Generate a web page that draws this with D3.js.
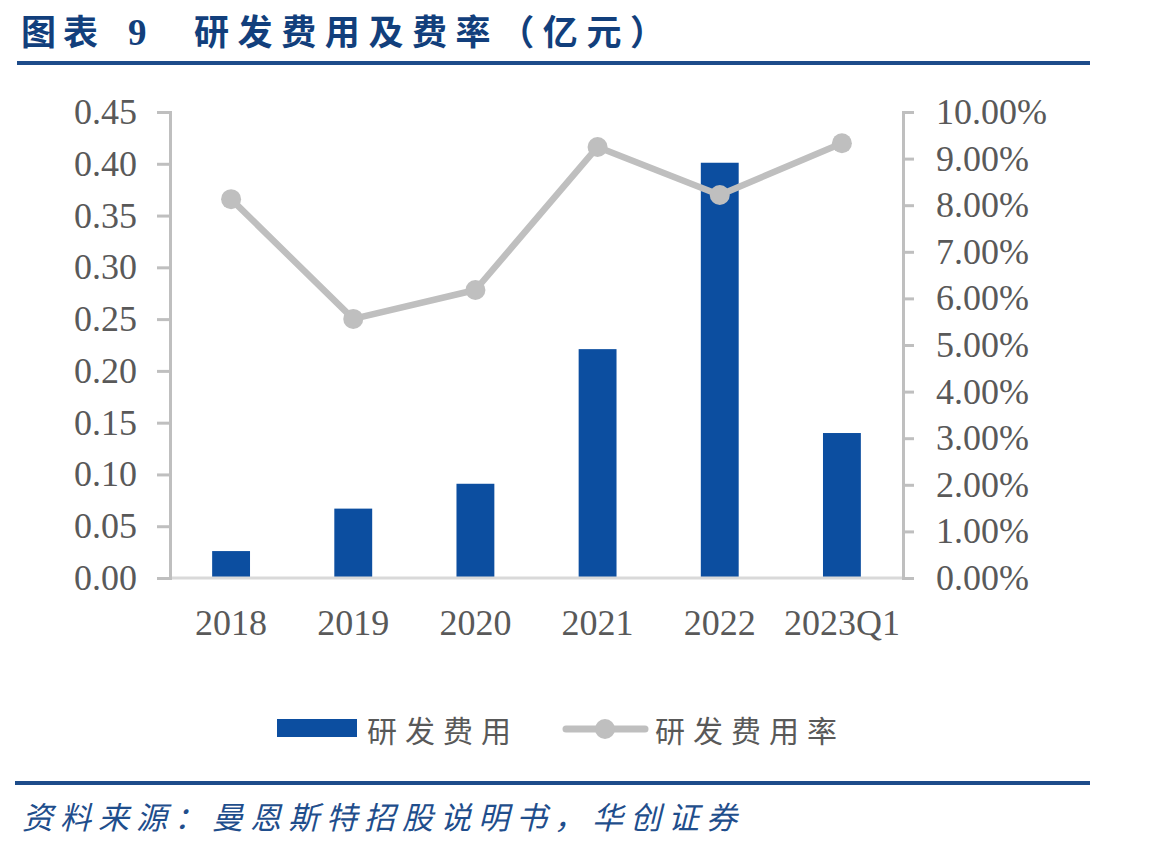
<!DOCTYPE html>
<html>
<head>
<meta charset="utf-8">
<style>
  body { margin: 0; background: #fff; }
  svg { display: block; }
</style>
</head>
<body>
<script src="https://cdn.jsdelivr.net/npm/d3@7/dist/d3.min.js"></script>
<script>
  // 数据
  var categories = ["2018", "2019", "2020", "2021", "2022", "2023Q1"];
  var rdCost = [0.026, 0.067, 0.091, 0.221, 0.401, 0.140];      // 研发费用（亿元）
  var rdRate = [0.0813, 0.0556, 0.0618, 0.0925, 0.0822, 0.0933]; // 研发费用率
  var leftTicks = [0, 0.05, 0.10, 0.15, 0.20, 0.25, 0.30, 0.35, 0.40, 0.45];
  var rightTicks = [0, 0.01, 0.02, 0.03, 0.04, 0.05, 0.06, 0.07, 0.08, 0.09, 0.10];

  var width = 1149, height = 849;
  var blue = "#0c4ea0", gray = "#bfbfbf", textGray = "#595959", navy = "#123f7c";
  var numFont = "'Liberation Serif', 'Times New Roman', serif";
  var cjkFont = "'Noto Sans CJK SC', sans-serif";

  var svg = d3.select("body").append("svg")
              .attr("width", width)
              .attr("height", height);

  // 标题
  var title = svg.append("g").attr("fill", navy).attr("font-weight", "bold");
  title.append("text").attr("x", 21).attr("y", 45)
       .attr("font-family", cjkFont).attr("font-size", 35)
       .attr("letter-spacing", 7).text("图表");
  title.append("text").attr("x", 128).attr("y", 45)
       .attr("font-family", numFont).attr("font-size", 37).text("9");
  title.append("text").attr("x", 194).attr("y", 45)
       .attr("font-family", cjkFont).attr("font-size", 35)
       .attr("letter-spacing", 8.6).text("研发费用及费率（亿元）");

  svg.append("rect").attr("x", 17).attr("y", 61).attr("width", 1073).attr("height", 4).attr("fill", "#1d4c8a");
  svg.append("rect").attr("x", 15).attr("y", 781).attr("width", 1075).attr("height", 4).attr("fill", "#1d4c8a");

  // 来源
  svg.append("text").attr("x", 22).attr("y", 829)
     .attr("font-family", cjkFont).attr("font-size", 31)
     .attr("font-style", "italic").attr("letter-spacing", 7)
     .attr("fill", "#1f4e8c")
     .text("资料来源：曼恩斯特招股说明书，华创证券");

  // 坐标
  var plot = {left: 170, right: 903, top: 112, bottom: 578};
  var x = d3.scaleBand().domain(categories)
            .range([plot.left, plot.right]).paddingInner(0.69).paddingOuter(0.345);
  var yL = d3.scaleLinear().domain([0, 0.45]).range([plot.bottom, plot.top]);
  var yR = d3.scaleLinear().domain([0, 0.10]).range([plot.bottom, plot.top]);

  // 柱
  svg.selectAll("rect.bar").data(rdCost).enter().append("rect")
     .attr("class", "bar")
     .attr("fill", blue)
     .attr("x", function(d, i) { return x(categories[i]); })
     .attr("y", function(d) { return yL(d); })
     .attr("width", x.bandwidth())
     .attr("height", function(d) { return plot.bottom - yL(d); });

  // X 轴
  svg.append("line").attr("x1", plot.left).attr("x2", plot.right)
     .attr("y1", plot.bottom).attr("y2", plot.bottom)
     .attr("stroke", "#d9d9d9").attr("stroke-width", 3);

  var xAxis = svg.append("g").attr("transform", "translate(0," + plot.bottom + ")")
                 .call(d3.axisBottom(x).tickSize(0).tickPadding(57));
  xAxis.select(".domain").remove();
  xAxis.selectAll("text").attr("font-family", numFont).attr("font-size", 36)
       .attr("fill", textGray).attr("dy", "0");

  // 左轴
  var leftAxis = svg.append("g").attr("transform", "translate(" + plot.left + ",0)")
                    .call(d3.axisLeft(yL).tickValues(leftTicks).tickSizeInner(13).tickSizeOuter(13)
                          .tickPadding(20).tickFormat(d3.format(".2f")));
  leftAxis.select(".domain").attr("stroke", gray).attr("stroke-width", 3);
  leftAxis.selectAll(".tick line").attr("stroke", gray).attr("stroke-width", 3);
  leftAxis.selectAll("text").attr("font-family", numFont).attr("font-size", 36)
          .attr("fill", textGray);

  // 右轴
  var rightAxis = svg.append("g").attr("transform", "translate(" + plot.right + ",0)")
                     .call(d3.axisRight(yR).tickValues(rightTicks).tickSizeInner(11).tickSizeOuter(11)
                           .tickPadding(22).tickFormat(d3.format(".2%")));
  rightAxis.select(".domain").attr("stroke", gray).attr("stroke-width", 3);
  rightAxis.selectAll(".tick line").attr("stroke", gray).attr("stroke-width", 3);
  rightAxis.selectAll("text").attr("font-family", numFont).attr("font-size", 36)
           .attr("fill", textGray);

  // 折线
  var cx = function(d, i) { return x(categories[i]) + x.bandwidth() / 2; };
  var line = d3.line().x(cx).y(function(d) { return yR(d); });
  svg.append("path").datum(rdRate)
     .attr("d", line).attr("fill", "none")
     .attr("stroke", gray).attr("stroke-width", 6.5).attr("stroke-linejoin", "round");
  svg.selectAll("circle.pt").data(rdRate).enter().append("circle")
     .attr("class", "pt")
     .attr("cx", cx).attr("cy", function(d) { return yR(d); })
     .attr("r", 10).attr("fill", gray);

  // 图例
  var legend = svg.append("g");
  legend.append("rect").attr("x", 277).attr("y", 719).attr("width", 80).attr("height", 18).attr("fill", blue);
  legend.append("text").attr("x", 367).attr("y", 729).attr("dominant-baseline", "central")
        .attr("font-family", cjkFont).attr("font-size", 30).attr("letter-spacing", 8)
        .attr("fill", textGray).text("研发费用");
  legend.append("line").attr("x1", 566).attr("x2", 645).attr("y1", 729).attr("y2", 729)
        .attr("stroke", gray).attr("stroke-width", 7).attr("stroke-linecap", "round");
  legend.append("circle").attr("cx", 605).attr("cy", 729).attr("r", 10).attr("fill", gray);
  legend.append("text").attr("x", 655).attr("y", 729).attr("dominant-baseline", "central")
        .attr("font-family", cjkFont).attr("font-size", 30).attr("letter-spacing", 8)
        .attr("fill", textGray).text("研发费用率");
</script>
</body>
</html>
